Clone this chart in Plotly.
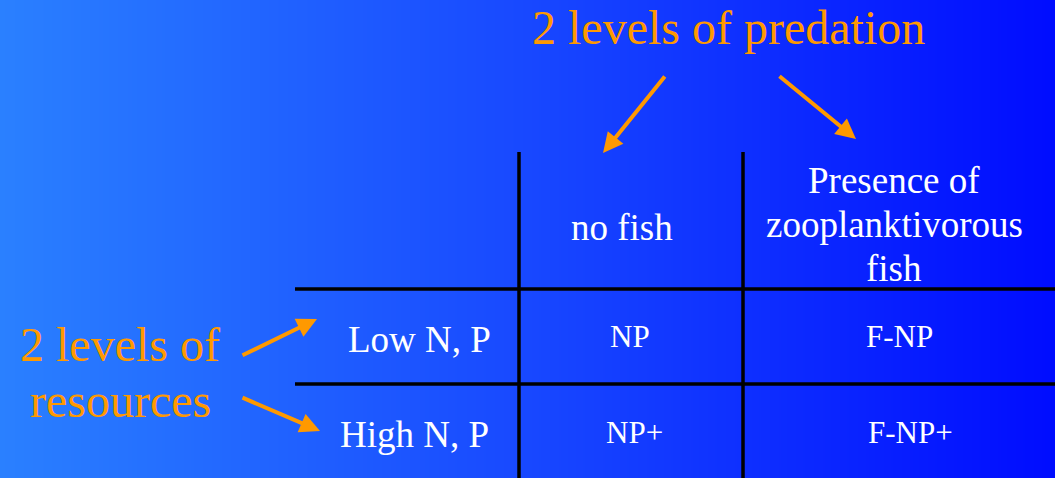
import numpy as np
import plotly.graph_objects as go

# ---- content ----
title_text = "2 levels of predation"
side_lines = ["2 levels of", "resources"]
col_headers = [["no fish"], ["Presence of", "zooplanktivorous", "fish"]]
row_labels = ["Low N, P", "High N, P"]
cells = [["NP", "F-NP"], ["NP+", "F-NP+"]]

# ---- layout (pixel coordinates) ----
W, H = 1055, 478
ORANGE = "rgb(255,153,0)"
FONT = "Liberation Serif, Times New Roman, serif"

col_x = [622, 894]
header_y = [[227], [180, 224, 268]]
row_label_x = [419, 414]
row_y = [339, 434]
cell_x = [[630, 899], [634, 910]]
cell_y = [336, 432]

fig = go.Figure()

# background gradient
gx = np.linspace(0, W, 212)
fig.add_trace(go.Heatmap(
    x=gx, y=[0, H], z=[gx, gx],
    colorscale=[[0, "rgb(42,128,255)"], [0.5, "rgb(24,72,255)"], [1, "rgb(0,12,255)"]],
    showscale=False, hoverinfo="skip", zsmooth="best"))

annotations = []
annotations.append(dict(x=728, y=27, text=title_text, showarrow=False,
                        font=dict(family=FONT, size=48, color=ORANGE)))
for t, yy in zip(side_lines, [344, 400]):
    annotations.append(dict(x=120, y=yy, text=t, showarrow=False,
                            font=dict(family=FONT, size=48, color=ORANGE)))
for lines, xs, ys in zip(col_headers, col_x, header_y):
    for t, yy in zip(lines, ys):
        annotations.append(dict(x=xs, y=yy, text=t, showarrow=False,
                                font=dict(family=FONT, size=37, color="white")))
for t, xx, yy in zip(row_labels, row_label_x, row_y):
    annotations.append(dict(x=xx, y=yy, text=t, showarrow=False,
                            font=dict(family=FONT, size=37, color="white")))
for r, row in enumerate(cells):
    for c, t in enumerate(row):
        annotations.append(dict(x=cell_x[r][c], y=cell_y[r], text=t, showarrow=False,
                                font=dict(family=FONT, size=31, color="white")))

# arrows: (tip, tail)
arrows = [((603, 153), (666, 75)), ((856, 139), (778, 75)),
          ((317, 319), (241, 356)), ((320, 431), (241, 397))]
for (tx, ty), (sx, sy) in arrows:
    annotations.append(dict(x=tx, y=ty, ax=sx, ay=sy, axref="x", ayref="y",
                            xref="x", yref="y", text="", showarrow=True,
                            arrowhead=2, arrowsize=1, arrowwidth=4,
                            arrowcolor=ORANGE, standoff=0, startstandoff=0))

shapes = []
for xv in [519, 743]:
    shapes.append(dict(type="line", x0=xv, x1=xv, y0=152, y1=H + 5,
                       line=dict(color="black", width=3.5), layer="above"))
for yv in [289, 384]:
    shapes.append(dict(type="line", x0=295, x1=W + 5, y0=yv, y1=yv,
                       line=dict(color="black", width=3.5), layer="above"))

fig.update_layout(
    width=W, height=H, margin=dict(l=0, r=0, t=0, b=0),
    paper_bgcolor="rgb(24,72,255)", plot_bgcolor="rgb(24,72,255)",
    xaxis=dict(range=[0, W], visible=False, fixedrange=True),
    yaxis=dict(range=[H, 0], visible=False, fixedrange=True),
    annotations=annotations, shapes=shapes, showlegend=False,
)

fig.write_html("out.html", config={"displayModeBar": False},
               post_script="document.body.style.margin='0';document.body.style.overflow='hidden';")
